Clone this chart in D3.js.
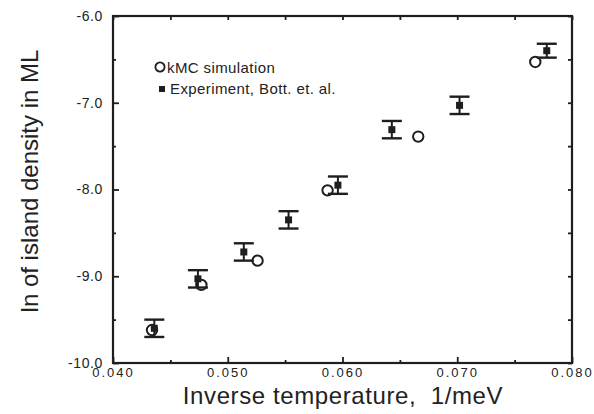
<!DOCTYPE html>
<html>
<head>
<meta charset="utf-8">
<script src="https://cdn.jsdelivr.net/npm/d3@7"></script>
<style>
  body { margin: 0; background: white; }
  text { font-family: "Liberation Sans", Arial, sans-serif; fill: #222; }
</style>
</head>
<body>
<div id="chart"></div>
<script>
// inverse temperature (1/meV) vs ln of island density
let kmcX = [0.0434, 0.0477, 0.0526, 0.0587, 0.0666, 0.0768];
let kmcY = [-9.62, -9.10, -8.82, -8.01, -7.39, -6.53];
let expX = [0.0436, 0.0474, 0.0514, 0.0553, 0.0596, 0.0643, 0.0702, 0.0778];
let expY = [-9.60, -9.03, -8.72, -8.35, -7.95, -7.31, -7.03, -6.40];
let expErr = [0.10, 0.10, 0.10, 0.10, 0.10, 0.10, 0.10, 0.08];
let xTicks = [0.040, 0.050, 0.060, 0.070, 0.080];
let xMinor = [0.045, 0.055, 0.065, 0.075];
let yTicks = [-10.0, -9.0, -8.0, -7.0, -6.0];
let yMinor = [-9.5, -8.5, -7.5, -6.5];
let legendLabels = ["kMC simulation", "Experiment, Bott. et. al."];

let margin = {top: 16, left: 113, right: 22, bottom: 51},
    width = 594 - margin.left - margin.right,
    height = 414 - margin.top - margin.bottom;

let svg = d3.select("#chart").append("svg")
  .attr("width", 594)
  .attr("height", 414);

let g = svg.append("g")
  .attr("transform", "translate(" + margin.left + "," + margin.top + ")");

let x = d3.scaleLinear().domain([0.040, 0.080]).range([0, width]),
    y = d3.scaleLinear().domain([-10, -6]).range([height, 0]);

let ink = "#1e1e1e";

// plain hyphen minus like the original, not the unicode one d3 uses
let fmtY = d => d3.format(".1f")(d).replace("\u2212", "-");

// ticks point inward on all four sides
function styleAxis(sel) {
  sel.select(".domain").remove();
  sel.selectAll(".tick line").attr("stroke", ink).attr("stroke-width", 1.8);
}

g.append("g").attr("transform", "translate(0," + height + ")")
  .call(d3.axisBottom(x).tickValues(xTicks).tickSize(-6).tickPadding(5).tickFormat(d3.format(".3f")))
  .call(styleAxis)
  .selectAll("text").attr("font-size", 13).attr("letter-spacing", 2).attr("fill", "#333");
g.append("g").attr("transform", "translate(0," + height + ")")
  .call(d3.axisBottom(x).tickValues(xMinor).tickSize(-3).tickFormat(""))
  .call(styleAxis);
g.append("g")
  .call(d3.axisTop(x).tickValues(xTicks.concat(xMinor)).tickSize(-4).tickFormat(""))
  .call(styleAxis);

g.append("g")
  .call(d3.axisLeft(y).tickValues(yTicks).tickSize(-6).tickPadding(10).tickFormat(fmtY))
  .call(styleAxis)
  .selectAll("text").attr("font-size", 14).attr("letter-spacing", 0.6).attr("fill", "#333");
g.append("g")
  .call(d3.axisLeft(y).tickValues(yMinor).tickSize(-3).tickFormat(""))
  .call(styleAxis);
g.append("g").attr("transform", "translate(" + width + ",0)")
  .call(d3.axisRight(y).tickValues(yTicks.concat(yMinor)).tickSize(-4).tickFormat(""))
  .call(styleAxis);

// frame
g.append("rect")
  .attr("width", width).attr("height", height)
  .attr("fill", "none").attr("stroke", ink).attr("stroke-width", 2.2);

// experiment: error bars + filled squares
let expData = expX.map((d, i) => ({x: d, y: expY[i], e: expErr[i]}));
let eb = g.selectAll(".err").data(expData).enter().append("g").attr("class", "err");
eb.append("line")
  .attr("x1", d => x(d.x)).attr("x2", d => x(d.x))
  .attr("y1", d => y(d.y - d.e)).attr("y2", d => y(d.y + d.e))
  .attr("stroke", ink).attr("stroke-width", 2);
eb.append("line")
  .attr("x1", d => x(d.x) - 10).attr("x2", d => x(d.x) + 10)
  .attr("y1", d => y(d.y + d.e)).attr("y2", d => y(d.y + d.e))
  .attr("stroke", ink).attr("stroke-width", 2.4);
eb.append("line")
  .attr("x1", d => x(d.x) - 10).attr("x2", d => x(d.x) + 10)
  .attr("y1", d => y(d.y - d.e)).attr("y2", d => y(d.y - d.e))
  .attr("stroke", ink).attr("stroke-width", 2.4);
eb.append("rect")
  .attr("x", d => x(d.x) - 3.5).attr("y", d => y(d.y) - 3.5)
  .attr("width", 7).attr("height", 7)
  .attr("fill", ink);

// kMC: open circles
g.selectAll(".kmc").data(kmcX).enter().append("circle")
  .attr("class", "kmc")
  .attr("cx", d => x(d)).attr("cy", (d, i) => y(kmcY[i]))
  .attr("r", 5.2)
  .attr("fill", "none").attr("stroke", ink).attr("stroke-width", 2);

// legend
let lg = svg.append("g").attr("transform", "translate(160,67)");
lg.append("circle").attr("r", 4.6).attr("fill", "none").attr("stroke", ink).attr("stroke-width", 1.8);
lg.append("text").attr("x", 7).attr("y", 5.5).attr("font-size", 15).attr("letter-spacing", 0.4).text(legendLabels[0]);
lg.append("rect").attr("x", -1).attr("y", 19).attr("width", 6).attr("height", 6).attr("fill", ink);
lg.append("text").attr("x", 10).attr("y", 27).attr("font-size", 15).attr("letter-spacing", 0.4).text(legendLabels[1]);

// axis titles
svg.append("text")
  .attr("x", 343).attr("y", 404)
  .attr("text-anchor", "middle")
  .attr("font-size", 24)
  .attr("letter-spacing", 0.6)
  .text("Inverse temperature,\u00a0\u00a01/meV");

svg.append("text")
  .attr("transform", "translate(38,181) rotate(-90)")
  .attr("text-anchor", "middle")
  .attr("font-size", 24)
  .text("ln of island density in ML");
</script>
</body>
</html>
